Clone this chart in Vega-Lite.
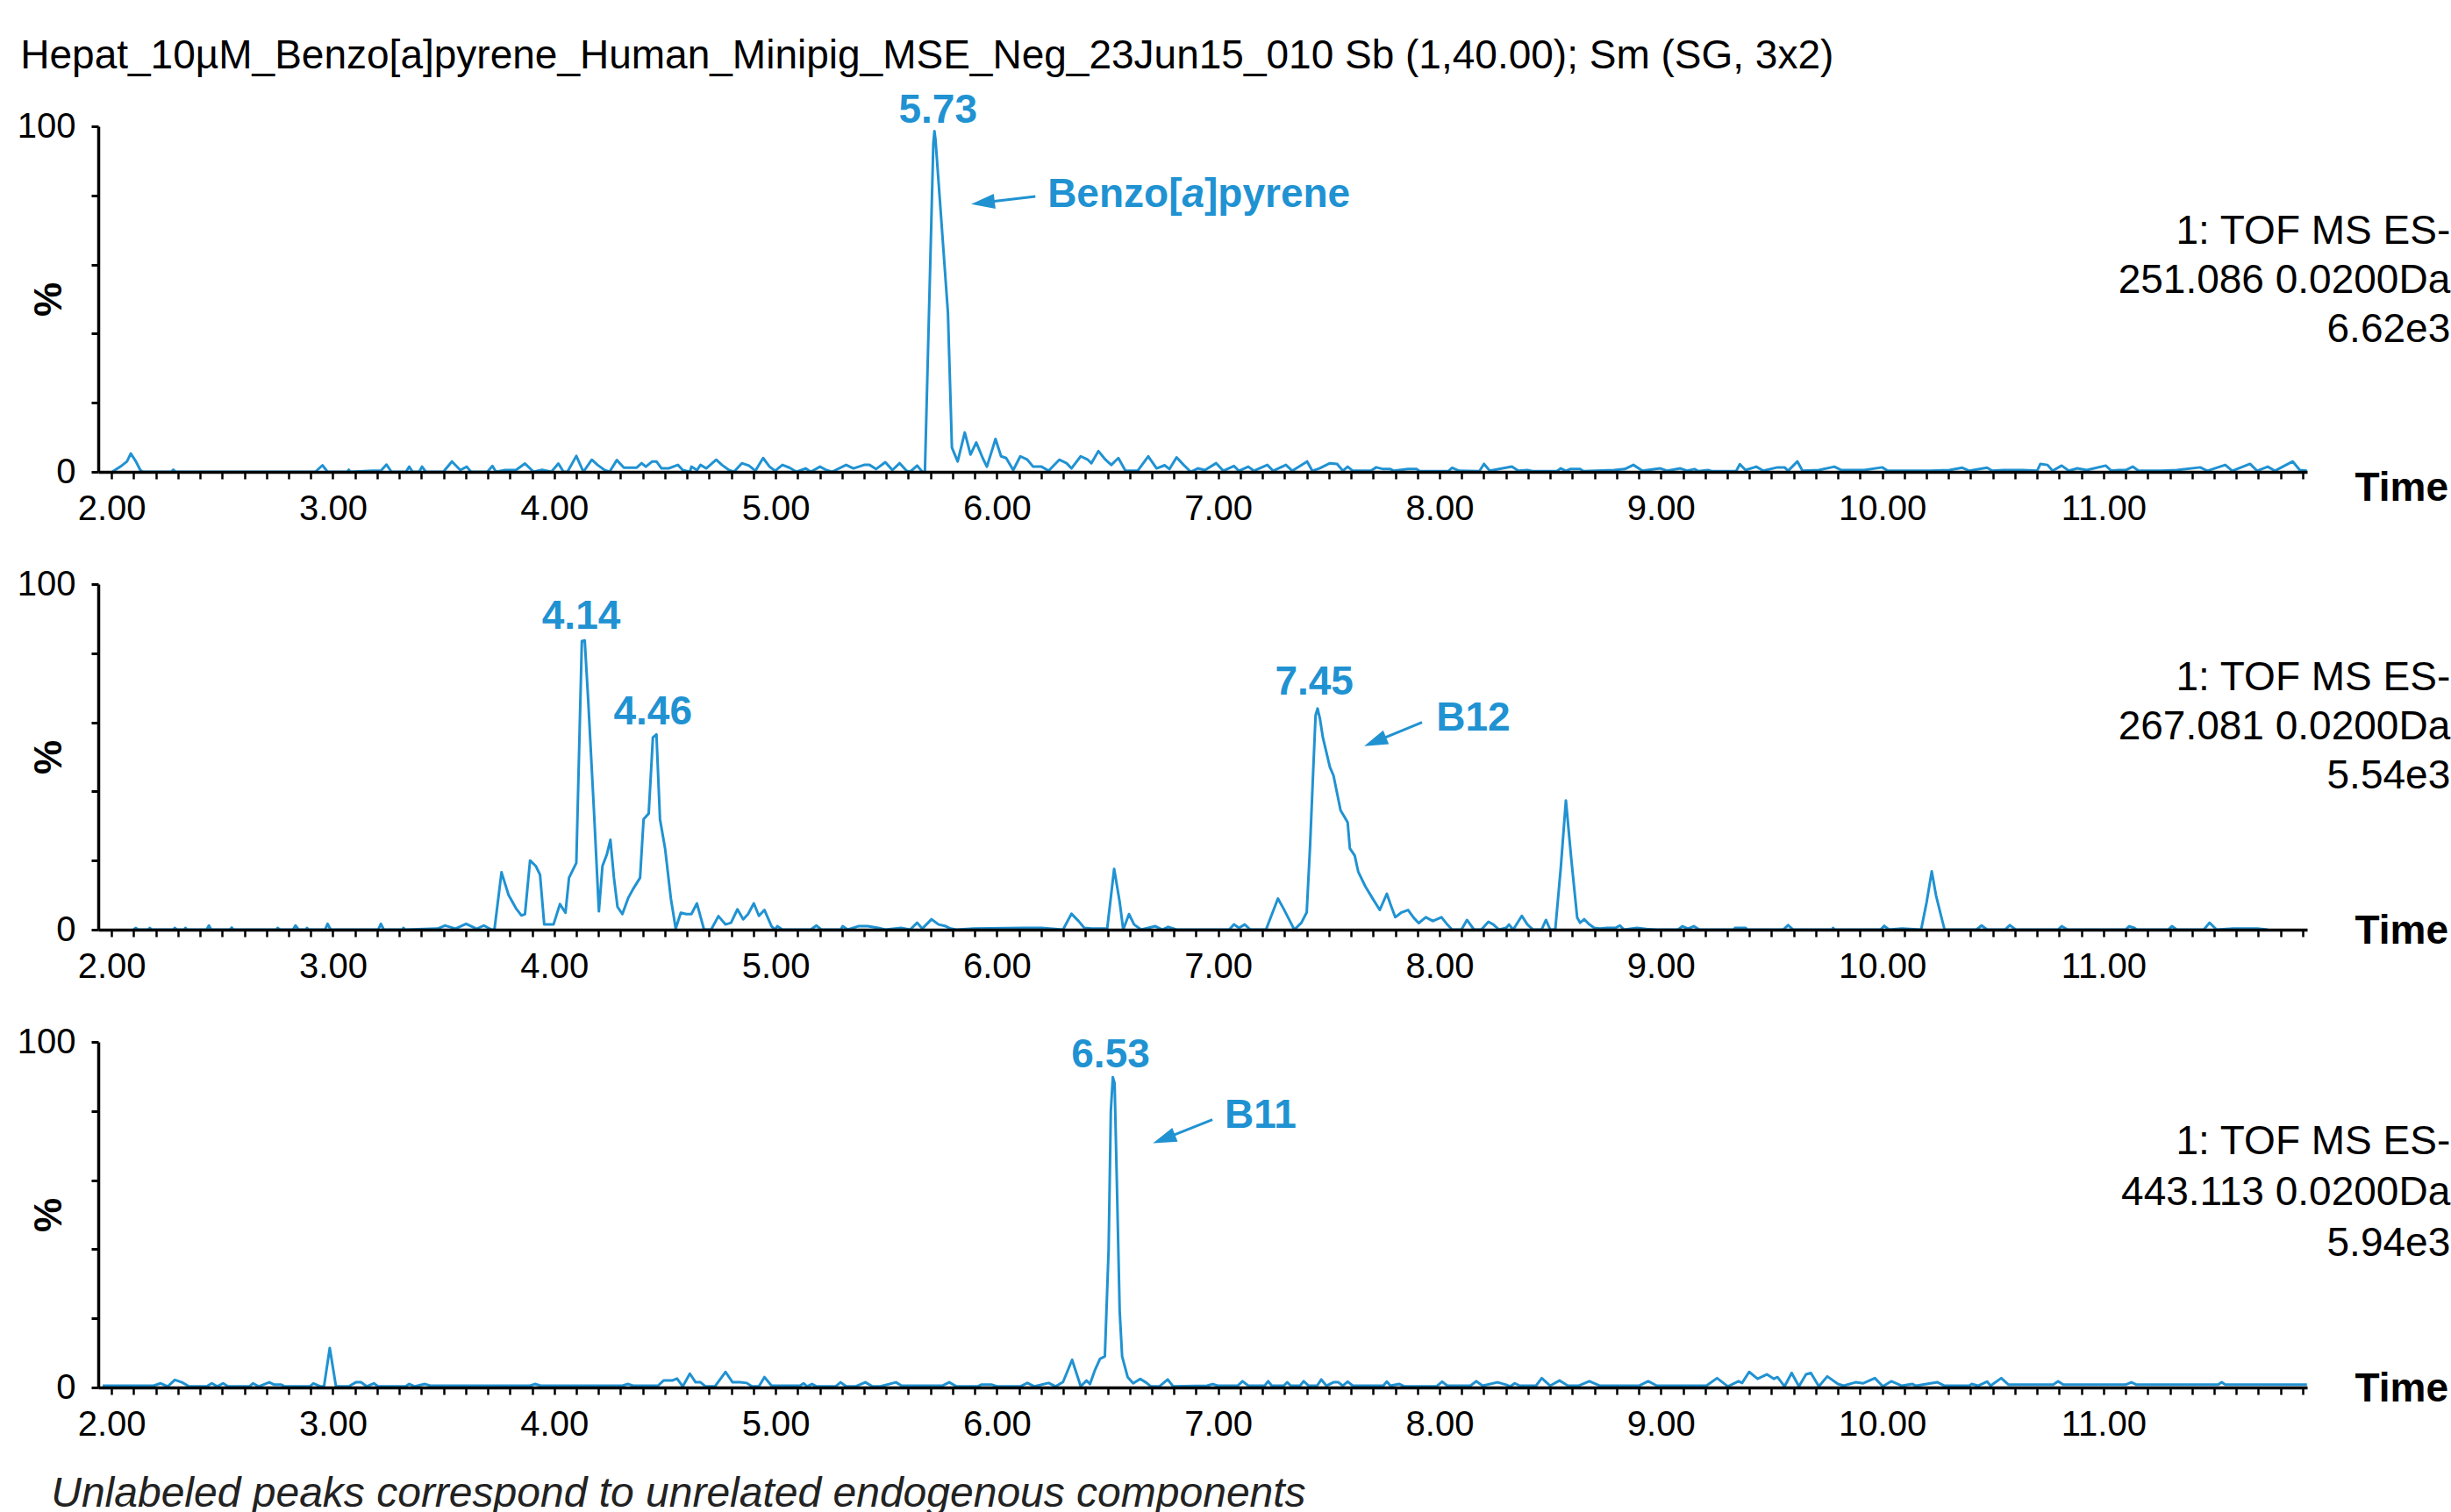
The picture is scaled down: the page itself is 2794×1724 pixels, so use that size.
{
"$schema": "https://vega.github.io/schema/vega-lite/v6.json",
"background": "white",
"padding": {"left": 19, "top": 40, "right": 0, "bottom": 0},
"title": {"text": "Hepat_10µM_Benzo[a]pyrene_Human_Minipig_MSE_Neg_23Jun15_010 Sb (1,40.00); Sm (SG, 3x2)", "anchor": "start", "fontSize": 46, "fontWeight": "normal", "font": "Liberation Sans", "color": "black", "offset": 15, "dx": 4},
"config": {"view": {"stroke": null}, "font": "Liberation Sans", "axis": {"labelFont": "Liberation Sans", "titleFont": "Liberation Sans", "domainColor": "black", "tickColor": "black", "labelColor": "black", "titleColor": "black", "grid": false}},
"bounds": "flush",
"spacing": 128,
"datasets": {
"p1": [{"t":2.003,"v":0},{"t":2.04,"v":1.5},{"t":2.07,"v":3},{"t":2.087,"v":5.3},{"t":2.11,"v":3},{"t":2.13,"v":0.5},{"t":2.141,"v":0},{"t":2.27,"v":0},{"t":2.279,"v":0.6},{"t":2.29,"v":0},{"t":2.921,"v":0},{"t":2.953,"v":1.9},{"t":2.976,"v":0},{"t":3.065,"v":0},{"t":3.072,"v":0.6},{"t":3.08,"v":0},{"t":3.178,"v":0.3},{"t":3.217,"v":0.3},{"t":3.242,"v":2.1},{"t":3.265,"v":0},{"t":3.33,"v":0},{"t":3.345,"v":1.5},{"t":3.36,"v":0},{"t":3.39,"v":0},{"t":3.403,"v":1.5},{"t":3.42,"v":0},{"t":3.499,"v":0},{"t":3.538,"v":3.0},{"t":3.576,"v":0.5},{"t":3.605,"v":1.5},{"t":3.624,"v":0},{"t":3.698,"v":0},{"t":3.721,"v":1.7},{"t":3.737,"v":0},{"t":3.778,"v":0.5},{"t":3.827,"v":0.5},{"t":3.868,"v":2.4},{"t":3.907,"v":0},{"t":3.945,"v":0.6},{"t":3.987,"v":0},{"t":4.019,"v":2.4},{"t":4.042,"v":0},{"t":4.06,"v":0},{"t":4.1,"v":4.6},{"t":4.132,"v":0},{"t":4.17,"v":3.5},{"t":4.196,"v":2},{"t":4.228,"v":0.5},{"t":4.25,"v":0},{"t":4.283,"v":3.4},{"t":4.315,"v":1.2},{"t":4.372,"v":1.2},{"t":4.395,"v":2.5},{"t":4.414,"v":1.5},{"t":4.443,"v":3.0},{"t":4.462,"v":3.0},{"t":4.485,"v":1.0},{"t":4.517,"v":1.0},{"t":4.559,"v":2.0},{"t":4.581,"v":0.5},{"t":4.613,"v":0},{"t":4.62,"v":1.5},{"t":4.645,"v":0.5},{"t":4.661,"v":2.0},{"t":4.687,"v":1.0},{"t":4.732,"v":3.5},{"t":4.758,"v":2.0},{"t":4.79,"v":0.5},{"t":4.812,"v":0},{"t":4.848,"v":2.5},{"t":4.88,"v":1.8},{"t":4.909,"v":0.3},{"t":4.944,"v":4.0},{"t":4.973,"v":1.5},{"t":4.998,"v":0.3},{"t":5.031,"v":2.0},{"t":5.063,"v":1.2},{"t":5.095,"v":0},{"t":5.136,"v":1.0},{"t":5.159,"v":0},{"t":5.201,"v":1.5},{"t":5.23,"v":0.5},{"t":5.255,"v":0},{"t":5.319,"v":2.0},{"t":5.352,"v":1.0},{"t":5.4,"v":2.0},{"t":5.425,"v":2.0},{"t":5.454,"v":0.8},{"t":5.496,"v":2.8},{"t":5.528,"v":0.5},{"t":5.561,"v":2.5},{"t":5.592,"v":0.3},{"t":5.608,"v":0},{"t":5.64,"v":1.8},{"t":5.663,"v":0},{"t":5.675,"v":0},{"t":5.713,"v":95},{"t":5.718,"v":98.6},{"t":5.723,"v":96},{"t":5.75,"v":72},{"t":5.779,"v":46},{"t":5.797,"v":7},{"t":5.823,"v":3.0},{"t":5.855,"v":11.4},{"t":5.881,"v":5},{"t":5.907,"v":8.5},{"t":5.936,"v":4},{"t":5.955,"v":1.5},{"t":5.994,"v":9.5},{"t":6.019,"v":4.5},{"t":6.042,"v":4.0},{"t":6.074,"v":0.5},{"t":6.106,"v":4.5},{"t":6.138,"v":3.5},{"t":6.164,"v":1.5},{"t":6.202,"v":1.5},{"t":6.234,"v":0.3},{"t":6.282,"v":3.5},{"t":6.315,"v":2.5},{"t":6.337,"v":1.0},{"t":6.379,"v":4.5},{"t":6.411,"v":3.5},{"t":6.427,"v":2.5},{"t":6.459,"v":6.0},{"t":6.491,"v":3.5},{"t":6.517,"v":2.0},{"t":6.549,"v":4.0},{"t":6.581,"v":0.3},{"t":6.636,"v":0.3},{"t":6.684,"v":4.5},{"t":6.722,"v":1.0},{"t":6.758,"v":1.9},{"t":6.78,"v":0.8},{"t":6.812,"v":4.2},{"t":6.844,"v":2.0},{"t":6.876,"v":0},{"t":6.908,"v":1.0},{"t":6.94,"v":0.5},{"t":6.991,"v":2.5},{"t":7.023,"v":0.3},{"t":7.071,"v":1.7},{"t":7.094,"v":0.3},{"t":7.136,"v":1.5},{"t":7.161,"v":0.3},{"t":7.222,"v":2.0},{"t":7.248,"v":0.3},{"t":7.306,"v":2.0},{"t":7.335,"v":0.3},{"t":7.402,"v":3.0},{"t":7.425,"v":0.3},{"t":7.457,"v":1.0},{"t":7.505,"v":2.5},{"t":7.537,"v":2.3},{"t":7.563,"v":0.3},{"t":7.585,"v":1.5},{"t":7.608,"v":0.3},{"t":7.69,"v":0.3},{"t":7.714,"v":1.3},{"t":7.746,"v":0.8},{"t":7.778,"v":0.8},{"t":7.794,"v":0.3},{"t":7.858,"v":0.8},{"t":7.896,"v":0.8},{"t":7.91,"v":0.2},{"t":8.04,"v":0.2},{"t":8.057,"v":1.2},{"t":8.089,"v":0.3},{"t":8.18,"v":0.2},{"t":8.201,"v":2.3},{"t":8.227,"v":0.3},{"t":8.269,"v":0.8},{"t":8.327,"v":1.5},{"t":8.356,"v":0.3},{"t":8.397,"v":0.5},{"t":8.42,"v":0.2},{"t":8.53,"v":0.2},{"t":8.548,"v":1.0},{"t":8.571,"v":0.3},{"t":8.59,"v":0.8},{"t":8.635,"v":0.8},{"t":8.65,"v":0.2},{"t":8.789,"v":0.5},{"t":8.837,"v":0.8},{"t":8.876,"v":2.0},{"t":8.917,"v":0.3},{"t":8.998,"v":1.0},{"t":9.03,"v":0.3},{"t":9.088,"v":1.0},{"t":9.12,"v":0.3},{"t":9.152,"v":0.8},{"t":9.17,"v":0.2},{"t":9.213,"v":0.5},{"t":9.23,"v":0.2},{"t":9.34,"v":0.2},{"t":9.357,"v":2.2},{"t":9.383,"v":0.5},{"t":9.431,"v":1.5},{"t":9.463,"v":0.3},{"t":9.527,"v":1.3},{"t":9.559,"v":1.3},{"t":9.575,"v":0.3},{"t":9.617,"v":3.0},{"t":9.64,"v":0.3},{"t":9.714,"v":0.5},{"t":9.784,"v":1.5},{"t":9.816,"v":0.5},{"t":9.848,"v":0.5},{"t":9.919,"v":0.5},{"t":10.0,"v":1.3},{"t":10.025,"v":0.3},{"t":10.218,"v":0.3},{"t":10.304,"v":0.5},{"t":10.362,"v":1.2},{"t":10.394,"v":0.3},{"t":10.474,"v":1.2},{"t":10.497,"v":0.3},{"t":10.548,"v":0.5},{"t":10.635,"v":0.5},{"t":10.7,"v":0.3},{"t":10.715,"v":2.3},{"t":10.747,"v":2.0},{"t":10.77,"v":0.3},{"t":10.811,"v":1.8},{"t":10.843,"v":0.3},{"t":10.882,"v":1.0},{"t":10.924,"v":0.5},{"t":11.01,"v":1.8},{"t":11.036,"v":0.3},{"t":11.068,"v":0.5},{"t":11.1,"v":0.5},{"t":11.132,"v":1.5},{"t":11.158,"v":0.3},{"t":11.261,"v":0.3},{"t":11.331,"v":0.5},{"t":11.437,"v":1.3},{"t":11.469,"v":0.3},{"t":11.55,"v":2.0},{"t":11.582,"v":0.3},{"t":11.662,"v":2.3},{"t":11.694,"v":0.3},{"t":11.742,"v":1.5},{"t":11.774,"v":0.3},{"t":11.855,"v":3.0},{"t":11.887,"v":0.5},{"t":11.919,"v":0.3}],
"p2": [{"t":2.1,"v":0},{"t":2.109,"v":0.5},{"t":2.12,"v":0},{"t":2.165,"v":0},{"t":2.173,"v":0.5},{"t":2.18,"v":0},{"t":2.28,"v":0},{"t":2.286,"v":0.5},{"t":2.295,"v":0},{"t":2.33,"v":0},{"t":2.334,"v":0.5},{"t":2.34,"v":0},{"t":2.43,"v":0},{"t":2.44,"v":1.2},{"t":2.45,"v":0},{"t":2.535,"v":0},{"t":2.543,"v":0.6},{"t":2.55,"v":0},{"t":2.745,"v":0},{"t":2.751,"v":0.5},{"t":2.76,"v":0},{"t":2.82,"v":0},{"t":2.831,"v":1.2},{"t":2.845,"v":0},{"t":2.88,"v":0},{"t":2.883,"v":0.5},{"t":2.89,"v":0},{"t":2.965,"v":0},{"t":2.976,"v":1.7},{"t":2.99,"v":0},{"t":3.205,"v":0},{"t":3.217,"v":1.7},{"t":3.23,"v":0},{"t":3.315,"v":0},{"t":3.319,"v":0.5},{"t":3.325,"v":0},{"t":3.474,"v":0.3},{"t":3.506,"v":1.2},{"t":3.554,"v":0.3},{"t":3.602,"v":1.7},{"t":3.65,"v":0.2},{"t":3.682,"v":1.2},{"t":3.717,"v":0},{"t":3.73,"v":0},{"t":3.762,"v":16.6},{"t":3.794,"v":10},{"t":3.827,"v":6.2},{"t":3.852,"v":4.1},{"t":3.868,"v":4.5},{"t":3.891,"v":20},{"t":3.917,"v":18.4},{"t":3.936,"v":15.9},{"t":3.955,"v":1.5},{"t":3.997,"v":1.5},{"t":4.026,"v":7.4},{"t":4.051,"v":4.9},{"t":4.067,"v":15},{"t":4.1,"v":19.3},{"t":4.125,"v":83.5},{"t":4.138,"v":83.7},{"t":4.154,"v":66},{"t":4.18,"v":34},{"t":4.202,"v":5.3},{"t":4.218,"v":18.4},{"t":4.238,"v":21.8},{"t":4.254,"v":26},{"t":4.27,"v":15},{"t":4.286,"v":6.6},{"t":4.308,"v":4.5},{"t":4.334,"v":9.1},{"t":4.356,"v":11.7},{"t":4.388,"v":15},{"t":4.404,"v":32},{"t":4.427,"v":33.6},{"t":4.446,"v":55.6},{"t":4.462,"v":56.5},{"t":4.478,"v":32},{"t":4.501,"v":23.5},{"t":4.527,"v":9.1},{"t":4.549,"v":0.3},{"t":4.572,"v":4.9},{"t":4.597,"v":4.5},{"t":4.62,"v":4.5},{"t":4.645,"v":7.6},{"t":4.677,"v":0},{"t":4.709,"v":0},{"t":4.742,"v":3.9},{"t":4.774,"v":1.5},{"t":4.799,"v":2},{"t":4.828,"v":5.9},{"t":4.854,"v":3},{"t":4.876,"v":4.5},{"t":4.902,"v":7.6},{"t":4.925,"v":4},{"t":4.95,"v":5.7},{"t":4.982,"v":1},{"t":4.998,"v":0},{"t":5.008,"v":1},{"t":5.031,"v":0},{"t":5.159,"v":0},{"t":5.185,"v":1.2},{"t":5.207,"v":0},{"t":5.295,"v":0},{"t":5.303,"v":1},{"t":5.326,"v":0},{"t":5.374,"v":1},{"t":5.416,"v":1},{"t":5.464,"v":0.5},{"t":5.496,"v":0},{"t":5.567,"v":0.5},{"t":5.608,"v":0},{"t":5.64,"v":2},{"t":5.663,"v":0.3},{"t":5.705,"v":3},{"t":5.737,"v":1.5},{"t":5.769,"v":1},{"t":5.791,"v":0.3},{"t":5.817,"v":0},{"t":5.897,"v":0.3},{"t":6.122,"v":0.5},{"t":6.202,"v":0.5},{"t":6.299,"v":0},{"t":6.337,"v":4.6},{"t":6.369,"v":2.5},{"t":6.395,"v":0.5},{"t":6.427,"v":0.3},{"t":6.492,"v":0.3},{"t":6.498,"v":0},{"t":6.53,"v":17.6},{"t":6.555,"v":8},{"t":6.571,"v":0},{"t":6.597,"v":4.5},{"t":6.62,"v":1.5},{"t":6.652,"v":0},{"t":6.716,"v":1},{"t":6.748,"v":0},{"t":6.774,"v":0.8},{"t":6.812,"v":0},{"t":7.05,"v":0},{"t":7.071,"v":1.5},{"t":7.094,"v":0.5},{"t":7.12,"v":1.5},{"t":7.145,"v":0},{"t":7.216,"v":0},{"t":7.27,"v":9},{"t":7.296,"v":6},{"t":7.328,"v":2},{"t":7.344,"v":0},{"t":7.376,"v":2},{"t":7.4,"v":5},{"t":7.415,"v":24},{"t":7.428,"v":44},{"t":7.44,"v":62},{"t":7.449,"v":64},{"t":7.46,"v":61},{"t":7.473,"v":55.6},{"t":7.505,"v":47},{"t":7.521,"v":44.6},{"t":7.553,"v":34.5},{"t":7.569,"v":32.8},{"t":7.585,"v":31},{"t":7.595,"v":23.5},{"t":7.617,"v":21.4},{"t":7.633,"v":16.7},{"t":7.665,"v":12.5},{"t":7.697,"v":9.1},{"t":7.73,"v":5.7},{"t":7.762,"v":10.4},{"t":7.778,"v":7.4},{"t":7.8,"v":3.6},{"t":7.826,"v":4.9},{"t":7.858,"v":5.7},{"t":7.884,"v":3.4},{"t":7.906,"v":1.9},{"t":7.938,"v":3.6},{"t":7.97,"v":2.5},{"t":8.009,"v":3.6},{"t":8.035,"v":1.5},{"t":8.057,"v":0},{"t":8.099,"v":0},{"t":8.124,"v":2.8},{"t":8.156,"v":0},{"t":8.189,"v":0},{"t":8.221,"v":2.3},{"t":8.243,"v":1.5},{"t":8.269,"v":0},{"t":8.301,"v":0.5},{"t":8.314,"v":1.5},{"t":8.333,"v":0},{"t":8.372,"v":4},{"t":8.397,"v":1.5},{"t":8.423,"v":0},{"t":8.461,"v":0},{"t":8.481,"v":2.8},{"t":8.5,"v":0},{"t":8.523,"v":0},{"t":8.548,"v":18},{"t":8.571,"v":37.4},{"t":8.596,"v":20},{"t":8.622,"v":3.5},{"t":8.635,"v":2},{"t":8.654,"v":3},{"t":8.677,"v":1.5},{"t":8.699,"v":0.5},{"t":8.725,"v":0.3},{"t":8.757,"v":0.5},{"t":8.795,"v":0.5},{"t":8.815,"v":1.2},{"t":8.834,"v":0},{"t":8.892,"v":0.5},{"t":8.934,"v":0.2},{"t":8.982,"v":0},{"t":9.078,"v":0},{"t":9.097,"v":1},{"t":9.123,"v":0.3},{"t":9.149,"v":1},{"t":9.174,"v":0},{"t":9.33,"v":0},{"t":9.335,"v":0.5},{"t":9.383,"v":0.5},{"t":9.39,"v":0},{"t":9.553,"v":0},{"t":9.575,"v":1.3},{"t":9.598,"v":0},{"t":9.775,"v":0},{"t":9.778,"v":0.5},{"t":9.785,"v":0},{"t":9.993,"v":0},{"t":10.009,"v":1.1},{"t":10.031,"v":0},{"t":10.089,"v":0.3},{"t":10.176,"v":0},{"t":10.201,"v":8},{"t":10.224,"v":16.9},{"t":10.243,"v":10},{"t":10.266,"v":4},{"t":10.282,"v":0},{"t":10.426,"v":0},{"t":10.449,"v":1.2},{"t":10.474,"v":0},{"t":10.555,"v":0},{"t":10.577,"v":1.3},{"t":10.603,"v":0},{"t":10.795,"v":0},{"t":10.811,"v":1},{"t":10.837,"v":0},{"t":11.1,"v":0},{"t":11.116,"v":1},{"t":11.139,"v":0.5},{"t":11.15,"v":0},{"t":11.293,"v":0},{"t":11.309,"v":1},{"t":11.331,"v":0},{"t":11.453,"v":0},{"t":11.479,"v":2},{"t":11.511,"v":0},{"t":11.582,"v":0.3},{"t":11.694,"v":0.3},{"t":11.742,"v":0}],
"p3": [{"t":1.96,"v":0.5},{"t":2.19,"v":0.5},{"t":2.222,"v":1.2},{"t":2.254,"v":0.3},{"t":2.286,"v":2.2},{"t":2.318,"v":1.5},{"t":2.35,"v":0.3},{"t":2.43,"v":0.3},{"t":2.453,"v":1.2},{"t":2.478,"v":0.3},{"t":2.504,"v":1.2},{"t":2.526,"v":0.3},{"t":2.623,"v":0.3},{"t":2.639,"v":1.2},{"t":2.665,"v":0.3},{"t":2.713,"v":1.5},{"t":2.735,"v":0.8},{"t":2.767,"v":0.8},{"t":2.783,"v":0.3},{"t":2.896,"v":0.3},{"t":2.912,"v":1.2},{"t":2.944,"v":0.3},{"t":2.96,"v":0.3},{"t":2.986,"v":11.4},{"t":3.014,"v":0.3},{"t":3.072,"v":0.3},{"t":3.104,"v":1.5},{"t":3.127,"v":1.5},{"t":3.153,"v":0.3},{"t":3.185,"v":1.2},{"t":3.204,"v":0.3},{"t":3.329,"v":0.3},{"t":3.345,"v":1.0},{"t":3.371,"v":0.3},{"t":3.416,"v":1.0},{"t":3.441,"v":0.5},{"t":3.891,"v":0.5},{"t":3.913,"v":1.0},{"t":3.939,"v":0.5},{"t":4.308,"v":0.5},{"t":4.334,"v":1.0},{"t":4.356,"v":0.5},{"t":4.469,"v":0.5},{"t":4.494,"v":2.0},{"t":4.533,"v":2.0},{"t":4.555,"v":2.6},{"t":4.581,"v":0.3},{"t":4.613,"v":4.0},{"t":4.639,"v":1.5},{"t":4.661,"v":1.5},{"t":4.684,"v":0.3},{"t":4.726,"v":0.3},{"t":4.774,"v":4.5},{"t":4.806,"v":1.5},{"t":4.838,"v":1.5},{"t":4.87,"v":1.3},{"t":4.893,"v":0.3},{"t":4.925,"v":0.3},{"t":4.95,"v":3.0},{"t":4.982,"v":0.5},{"t":5.111,"v":0.5},{"t":5.127,"v":1.2},{"t":5.143,"v":0.3},{"t":5.165,"v":1.0},{"t":5.185,"v":0.3},{"t":5.271,"v":0.3},{"t":5.294,"v":1.5},{"t":5.319,"v":0.3},{"t":5.361,"v":0.3},{"t":5.406,"v":1.5},{"t":5.438,"v":0.3},{"t":5.474,"v":0.3},{"t":5.544,"v":1.5},{"t":5.57,"v":0.5},{"t":5.753,"v":0.5},{"t":5.785,"v":1.5},{"t":5.817,"v":0.3},{"t":5.913,"v":0.3},{"t":5.929,"v":0.8},{"t":5.978,"v":0.8},{"t":6.003,"v":0.3},{"t":6.106,"v":0.3},{"t":6.138,"v":1.3},{"t":6.17,"v":0.3},{"t":6.234,"v":1.3},{"t":6.266,"v":0.3},{"t":6.299,"v":1.6},{"t":6.34,"v":8.0},{"t":6.379,"v":0.3},{"t":6.405,"v":2.0},{"t":6.421,"v":1.0},{"t":6.443,"v":5.0},{"t":6.466,"v":8.3},{"t":6.488,"v":9.0},{"t":6.505,"v":40},{"t":6.515,"v":80},{"t":6.524,"v":89.8},{"t":6.532,"v":88},{"t":6.542,"v":60},{"t":6.555,"v":22},{"t":6.566,"v":9},{"t":6.591,"v":3},{"t":6.616,"v":1.2},{"t":6.648,"v":2.5},{"t":6.677,"v":1.3},{"t":6.696,"v":0.3},{"t":6.734,"v":0.3},{"t":6.772,"v":2.3},{"t":6.797,"v":0.3},{"t":6.95,"v":0.5},{"t":6.975,"v":1.0},{"t":6.998,"v":0.5},{"t":7.088,"v":0.5},{"t":7.11,"v":1.8},{"t":7.136,"v":0.5},{"t":7.21,"v":0.5},{"t":7.226,"v":1.8},{"t":7.242,"v":0.5},{"t":7.296,"v":0.5},{"t":7.312,"v":1.5},{"t":7.328,"v":0.5},{"t":7.37,"v":0.5},{"t":7.386,"v":1.8},{"t":7.409,"v":0.5},{"t":7.447,"v":0.5},{"t":7.466,"v":2.3},{"t":7.489,"v":0.5},{"t":7.521,"v":1.5},{"t":7.543,"v":1.5},{"t":7.563,"v":0.5},{"t":7.585,"v":1.7},{"t":7.608,"v":0.5},{"t":7.746,"v":0.5},{"t":7.762,"v":1.7},{"t":7.778,"v":0.5},{"t":7.819,"v":1.0},{"t":7.842,"v":0.3},{"t":7.986,"v":0.3},{"t":8.012,"v":1.7},{"t":8.035,"v":0.5},{"t":8.14,"v":0.5},{"t":8.166,"v":1.8},{"t":8.195,"v":0.5},{"t":8.262,"v":1.5},{"t":8.301,"v":0.8},{"t":8.32,"v":0.3},{"t":8.34,"v":1.2},{"t":8.362,"v":0.5},{"t":8.436,"v":0.5},{"t":8.462,"v":2.7},{"t":8.5,"v":0.5},{"t":8.542,"v":2.0},{"t":8.58,"v":0.5},{"t":8.628,"v":0.5},{"t":8.677,"v":1.8},{"t":8.725,"v":0.5},{"t":8.901,"v":0.5},{"t":8.943,"v":1.8},{"t":8.982,"v":0.5},{"t":9.206,"v":0.5},{"t":9.254,"v":2.7},{"t":9.303,"v":0.3},{"t":9.351,"v":1.8},{"t":9.367,"v":1.3},{"t":9.399,"v":4.5},{"t":9.437,"v":2.5},{"t":9.479,"v":3.8},{"t":9.511,"v":2.5},{"t":9.527,"v":3.0},{"t":9.559,"v":0.3},{"t":9.591,"v":4.2},{"t":9.624,"v":0.3},{"t":9.656,"v":3.8},{"t":9.678,"v":4.2},{"t":9.714,"v":0.3},{"t":9.752,"v":3.2},{"t":9.8,"v":1.0},{"t":9.826,"v":0.5},{"t":9.88,"v":1.5},{"t":9.913,"v":1.2},{"t":9.967,"v":2.7},{"t":10.003,"v":0.3},{"t":10.041,"v":1.8},{"t":10.089,"v":0.5},{"t":10.137,"v":1.0},{"t":10.153,"v":0.5},{"t":10.25,"v":1.5},{"t":10.282,"v":0.5},{"t":10.394,"v":0.5},{"t":10.404,"v":1.0},{"t":10.433,"v":0.5},{"t":10.474,"v":1.7},{"t":10.49,"v":0.5},{"t":10.538,"v":2.7},{"t":10.571,"v":0.8},{"t":10.773,"v":0.8},{"t":10.795,"v":1.8},{"t":10.818,"v":0.8},{"t":11.1,"v":0.8},{"t":11.126,"v":1.5},{"t":11.149,"v":0.8},{"t":11.518,"v":0.8},{"t":11.534,"v":1.5},{"t":11.55,"v":0.8},{"t":11.919,"v":0.8}],
"peaks": [{"panel":1,"text":"5.73","t":5.734,"v":104.6},{"panel":2,"text":"4.14","t":4.122,"v":90.5},{"panel":2,"text":"4.46","t":4.446,"v":63.0},{"panel":2,"text":"7.45","t":7.434,"v":71.6},{"panel":3,"text":"6.53","t":6.514,"v":96.2}],
"names": [{"panel":1,"text":"Benzo[","t":6.229,"v":80.2},{"panel":1,"text":"a","t":6.837,"v":80.2},{"panel":1,"text":"]pyrene","t":6.938,"v":80.2},{"panel":2,"text":"B12","t":7.985,"v":61.1},{"panel":3,"text":"B11","t":7.029,"v":78.7}],
"arrows": [{"panel":1,"t1":6.174,"v1":79.7,"t2":5.937,"v2":77.9},{"panel":2,"t1":7.921,"v1":60.0,"t2":7.709,"v2":54.4},{"panel":3,"t1":6.974,"v1":77.5,"t2":6.755,"v2":71.9}],
"info": [{"panel":1,"text":"1: TOF MS ES-","t":12.567,"v":69.5},{"panel":1,"text":"251.086 0.0200Da","t":12.567,"v":55.4},{"panel":1,"text":"6.62e3","t":12.567,"v":41.1},{"panel":2,"text":"1: TOF MS ES-","t":12.567,"v":72.9},{"panel":2,"text":"267.081 0.0200Da","t":12.567,"v":58.7},{"panel":2,"text":"5.54e3","t":12.567,"v":44.5},{"panel":3,"text":"1: TOF MS ES-","t":12.567,"v":71.0},{"panel":3,"text":"443.113 0.0200Da","t":12.567,"v":56.3},{"panel":3,"text":"5.94e3","t":12.567,"v":41.7}],
"notes": [{"text":"Unlabeled peaks correspond to unrelated endogenous components","t":1.727,"v":-31}]
},
"vconcat": [
{"width": 2518, "height": 394,
 "layer": [
  {"data": {"name": "p1"}, "mark": {"type": "line", "color": "#2092d2", "strokeWidth": 3, "strokeJoin": "round"},
   "encoding": {
    "x": {"field": "t", "type": "quantitative", "scale": {"domain": [1.94, 11.92], "nice": false, "zero": false},
      "axis": {"title": "Time", "titleFontSize": 46, "titleFontWeight": "bold", "titleX": 2572, "titleY": 18, "titleAlign": "left", "titleBaseline": "middle", "tickCount": 100, "labelExpr": "abs(datum.value - round(datum.value)) < 0.01 ? format(datum.value, '.2f') : ''", "labelFontSize": 40, "labelOverlap": false, "labelFlush": false, "labelPadding": 14, "tickSize": 8, "tickWidth": 2.5, "domainWidth": 3.5, "zindex": 1,
        "encode": {"ticks": {"y2": {"condition": {"test": "abs(datum.value*2 - round(datum.value*2)) < 0.01", "value": 18}, "value": 8}}}}},
    "y": {"field": "v", "type": "quantitative", "scale": {"domain": [0, 100], "nice": false},
      "axis": {"title": "%", "titleFontSize": 44, "titleFontWeight": "bold", "titleX": -56, "titleY": 197, "titleAngle": 270, "titleAlign": "center", "titleBaseline": "middle", "values": [0,10,20,30,40,50,60,70,80,90,100], "labelExpr": "datum.value == 0 || datum.value == 100 ? datum.label : ''", "labelFontSize": 40, "labelPadding": 18, "labelOverlap": false, "tickSize": 8, "tickWidth": 3, "domainWidth": 3.5, "zindex": 1,
        "encode": {"ticks": {"x2": {"condition": {"test": "datum.value % 50 == 0", "value": -16}, "value": -8}}}}}
   }},
  {"data": {"name": "peaks"}, "transform": [{"filter": "datum.panel == 1"}], "mark": {"type": "text", "fontSize": 46, "fontWeight": "bold", "color": "#2092d2", "align": "center", "baseline": "middle"},
   "encoding": {"x": {"field": "t", "type": "quantitative"}, "y": {"field": "v", "type": "quantitative"}, "text": {"field": "text"}}},
  {"data": {"name": "names"}, "transform": [{"filter": "datum.panel == 1 && datum.text != 'a'"}], "mark": {"type": "text", "fontSize": 46, "fontWeight": "bold", "color": "#2092d2", "align": "left", "baseline": "middle"},
   "encoding": {"x": {"field": "t", "type": "quantitative"}, "y": {"field": "v", "type": "quantitative"}, "text": {"field": "text"}}},
  {"data": {"name": "names"}, "transform": [{"filter": "datum.panel == 1 && datum.text == 'a'"}], "mark": {"type": "text", "fontSize": 46, "fontWeight": "bold", "fontStyle": "italic", "color": "#2092d2", "align": "left", "baseline": "middle"},
   "encoding": {"x": {"field": "t", "type": "quantitative"}, "y": {"field": "v", "type": "quantitative"}, "text": {"field": "text"}}},
  {"data": {"name": "arrows"}, "transform": [{"filter": "datum.panel == 1"}], "mark": {"type": "rule", "color": "#2092d2", "strokeWidth": 3},
   "encoding": {"x": {"field": "t1", "type": "quantitative"}, "x2": {"field": "t2"}, "y": {"field": "v1", "type": "quantitative"}, "y2": {"field": "v2"}}},
  {"data": {"name": "arrows"}, "transform": [{"filter": "datum.panel == 1"}], "mark": {"type": "point", "shape": "M-1,0L1,-0.63L1,0.63Z", "size": 729, "filled": true, "opacity": 1, "color": "#2092d2", "angle": 353.1},
   "encoding": {"x": {"field": "t2", "type": "quantitative"}, "y": {"field": "v2", "type": "quantitative"}}},
  {"data": {"name": "info"}, "transform": [{"filter": "datum.panel == 1"}], "mark": {"type": "text", "fontSize": 46, "color": "black", "align": "right", "baseline": "middle"},
   "encoding": {"x": {"field": "t", "type": "quantitative"}, "y": {"field": "v", "type": "quantitative"}, "text": {"field": "text"}}}
 ]},
{"width": 2518, "height": 394,
 "layer": [
  {"data": {"name": "p2"}, "mark": {"type": "line", "color": "#2092d2", "strokeWidth": 3, "strokeJoin": "round"},
   "encoding": {
    "x": {"field": "t", "type": "quantitative", "scale": {"domain": [1.94, 11.92], "nice": false, "zero": false},
      "axis": {"title": "Time", "titleFontSize": 46, "titleFontWeight": "bold", "titleX": 2572, "titleY": 1, "titleAlign": "left", "titleBaseline": "middle", "tickCount": 100, "labelExpr": "abs(datum.value - round(datum.value)) < 0.01 ? format(datum.value, '.2f') : ''", "labelFontSize": 40, "labelOverlap": false, "labelFlush": false, "labelPadding": 14, "tickSize": 8, "tickWidth": 2.5, "domainWidth": 3.5, "zindex": 1,
        "encode": {"ticks": {"y2": {"condition": {"test": "abs(datum.value*2 - round(datum.value*2)) < 0.01", "value": 18}, "value": 8}}}}},
    "y": {"field": "v", "type": "quantitative", "scale": {"domain": [0, 100], "nice": false},
      "axis": {"title": "%", "titleFontSize": 44, "titleFontWeight": "bold", "titleX": -56, "titleY": 197, "titleAngle": 270, "titleAlign": "center", "titleBaseline": "middle", "values": [0,10,20,30,40,50,60,70,80,90,100], "labelExpr": "datum.value == 0 || datum.value == 100 ? datum.label : ''", "labelFontSize": 40, "labelPadding": 18, "labelOverlap": false, "tickSize": 8, "tickWidth": 3, "domainWidth": 3.5, "zindex": 1,
        "encode": {"ticks": {"x2": {"condition": {"test": "datum.value % 50 == 0", "value": -16}, "value": -8}}}}}
   }},
  {"data": {"name": "peaks"}, "transform": [{"filter": "datum.panel == 2"}], "mark": {"type": "text", "fontSize": 46, "fontWeight": "bold", "color": "#2092d2", "align": "center", "baseline": "middle"},
   "encoding": {"x": {"field": "t", "type": "quantitative"}, "y": {"field": "v", "type": "quantitative"}, "text": {"field": "text"}}},
  {"data": {"name": "names"}, "transform": [{"filter": "datum.panel == 2"}], "mark": {"type": "text", "fontSize": 46, "fontWeight": "bold", "color": "#2092d2", "align": "left", "baseline": "middle"},
   "encoding": {"x": {"field": "t", "type": "quantitative"}, "y": {"field": "v", "type": "quantitative"}, "text": {"field": "text"}}},
  {"data": {"name": "arrows"}, "transform": [{"filter": "datum.panel == 2"}], "mark": {"type": "rule", "color": "#2092d2", "strokeWidth": 3},
   "encoding": {"x": {"field": "t1", "type": "quantitative"}, "x2": {"field": "t2"}, "y": {"field": "v1", "type": "quantitative"}, "y2": {"field": "v2"}}},
  {"data": {"name": "arrows"}, "transform": [{"filter": "datum.panel == 2"}], "mark": {"type": "point", "shape": "M-1,0L1,-0.63L1,0.63Z", "size": 729, "filled": true, "opacity": 1, "color": "#2092d2", "angle": 337.6},
   "encoding": {"x": {"field": "t2", "type": "quantitative"}, "y": {"field": "v2", "type": "quantitative"}}},
  {"data": {"name": "info"}, "transform": [{"filter": "datum.panel == 2"}], "mark": {"type": "text", "fontSize": 46, "color": "black", "align": "right", "baseline": "middle"},
   "encoding": {"x": {"field": "t", "type": "quantitative"}, "y": {"field": "v", "type": "quantitative"}, "text": {"field": "text"}}}
 ]},
{"width": 2518, "height": 394,
 "layer": [
  {"data": {"name": "p3"}, "mark": {"type": "line", "color": "#2092d2", "strokeWidth": 3, "strokeJoin": "round"},
   "encoding": {
    "x": {"field": "t", "type": "quantitative", "scale": {"domain": [1.94, 11.92], "nice": false, "zero": false},
      "axis": {"title": "Time", "titleFontSize": 46, "titleFontWeight": "bold", "titleX": 2572, "titleY": 1, "titleAlign": "left", "titleBaseline": "middle", "tickCount": 100, "labelExpr": "abs(datum.value - round(datum.value)) < 0.01 ? format(datum.value, '.2f') : ''", "labelFontSize": 40, "labelOverlap": false, "labelFlush": false, "labelPadding": 14, "tickSize": 8, "tickWidth": 2.5, "domainWidth": 3.5, "zindex": 1,
        "encode": {"ticks": {"y2": {"condition": {"test": "abs(datum.value*2 - round(datum.value*2)) < 0.01", "value": 18}, "value": 8}}}}},
    "y": {"field": "v", "type": "quantitative", "scale": {"domain": [0, 100], "nice": false},
      "axis": {"title": "%", "titleFontSize": 44, "titleFontWeight": "bold", "titleX": -56, "titleY": 197, "titleAngle": 270, "titleAlign": "center", "titleBaseline": "middle", "values": [0,10,20,30,40,50,60,70,80,90,100], "labelExpr": "datum.value == 0 || datum.value == 100 ? datum.label : ''", "labelFontSize": 40, "labelPadding": 18, "labelOverlap": false, "tickSize": 8, "tickWidth": 3, "domainWidth": 3.5, "zindex": 1,
        "encode": {"ticks": {"x2": {"condition": {"test": "datum.value % 50 == 0", "value": -16}, "value": -8}}}}}
   }},
  {"data": {"name": "peaks"}, "transform": [{"filter": "datum.panel == 3"}], "mark": {"type": "text", "fontSize": 46, "fontWeight": "bold", "color": "#2092d2", "align": "center", "baseline": "middle"},
   "encoding": {"x": {"field": "t", "type": "quantitative"}, "y": {"field": "v", "type": "quantitative"}, "text": {"field": "text"}}},
  {"data": {"name": "names"}, "transform": [{"filter": "datum.panel == 3"}], "mark": {"type": "text", "fontSize": 46, "fontWeight": "bold", "color": "#2092d2", "align": "left", "baseline": "middle"},
   "encoding": {"x": {"field": "t", "type": "quantitative"}, "y": {"field": "v", "type": "quantitative"}, "text": {"field": "text"}}},
  {"data": {"name": "arrows"}, "transform": [{"filter": "datum.panel == 3"}], "mark": {"type": "rule", "color": "#2092d2", "strokeWidth": 3},
   "encoding": {"x": {"field": "t1", "type": "quantitative"}, "x2": {"field": "t2"}, "y": {"field": "v1", "type": "quantitative"}, "y2": {"field": "v2"}}},
  {"data": {"name": "arrows"}, "transform": [{"filter": "datum.panel == 3"}], "mark": {"type": "point", "shape": "M-1,0L1,-0.63L1,0.63Z", "size": 729, "filled": true, "opacity": 1, "color": "#2092d2", "angle": 338.7},
   "encoding": {"x": {"field": "t2", "type": "quantitative"}, "y": {"field": "v2", "type": "quantitative"}}},
  {"data": {"name": "info"}, "transform": [{"filter": "datum.panel == 3"}], "mark": {"type": "text", "fontSize": 46, "color": "black", "align": "right", "baseline": "middle"},
   "encoding": {"x": {"field": "t", "type": "quantitative"}, "y": {"field": "v", "type": "quantitative"}, "text": {"field": "text"}}},
  {"data": {"name": "notes"}, "mark": {"type": "text", "fontSize": 48, "fontStyle": "italic", "color": "#222", "align": "left", "baseline": "middle"},
   "encoding": {"x": {"field": "t", "type": "quantitative"}, "y": {"field": "v", "type": "quantitative"}, "text": {"field": "text"}}}
 ]}
]
}
